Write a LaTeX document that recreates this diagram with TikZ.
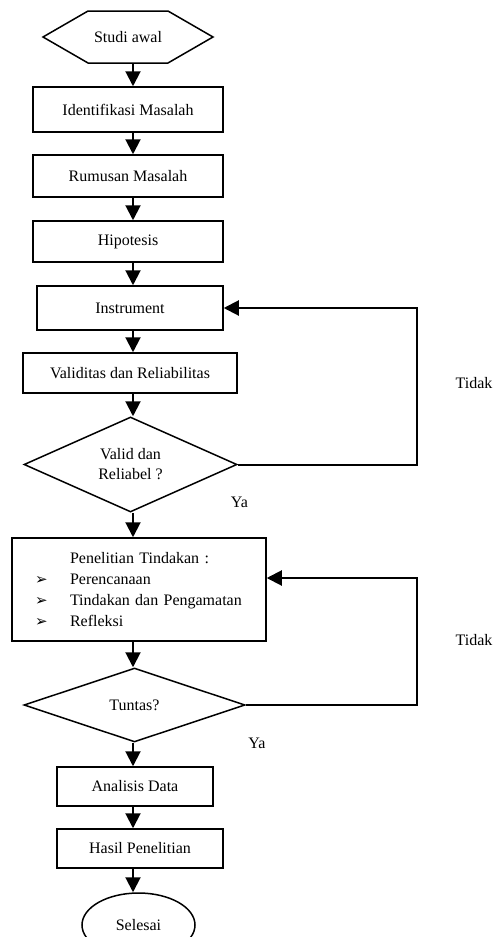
\documentclass[tikz,border=0pt]{standalone}
\usepackage{fontspec}
\setmainfont{Liberation Serif}
\newfontfamily\bulletfont{DejaVu Sans}
\usetikzlibrary{shapes.geometric,shapes.symbols,arrows.meta}

\begin{document}
\begin{tikzpicture}[x=1pt,y=-1pt,
    font=\fontsize{16}{20}\selectfont,
    kotak/.style={draw, line width=1.5pt, inner sep=2pt},
    pilihan/.style={draw, diamond, line width=1.5pt, inner sep=0pt, align=center},
    panah/.style={line width=2pt, -{Triangle[length=15pt,width=15pt]}}]
  \useasboundingbox (0,0) rectangle (493,937);
  \coordinate (ax) at (133,0);
  \coordinate (kanan) at (417,0);
  \coordinate (balik) at (417,578);

  \node[draw, signal, signal to=west and east, signal pointer angle=60,
        line width=1.5pt, minimum width=170, minimum height=52, inner sep=0pt]
        (awal) at (128,37) {Studi awal};
  \node[kotak, minimum width=190, minimum height=45] (identifikasi) at (128,109.5) {Identifikasi Masalah};
  \node[kotak, minimum width=190, minimum height=42] (rumusan) at (128,176) {Rumusan Masalah};
  \node[kotak, minimum width=190, minimum height=41] (hipotesis) at (128,241.5) {Hipotesis};
  \node[kotak, minimum width=186, minimum height=44] (instrument) at (130,308) {Instrument};
  \node[kotak, minimum width=214, minimum height=40] (validitas) at (130,373) {Validitas dan Reliabilitas};
  \node[pilihan, aspect=2.24, minimum width=213, minimum height=95] (valid) at (130.5,464.5) {Valid dan\\Reliabel ?};
  \node[kotak, minimum height=103, text width=208, inner xsep=23, align=left,
        font=\fontsize{16}{21}\selectfont] (tindakan) at (139,589.5)
    {\makebox[35pt][l]{}Penelitian Tindakan :\\
     \makebox[35pt][l]{\bulletfont\fontsize{15}{15}\selectfont ➢}Perencanaan\\
     \makebox[35pt][l]{\bulletfont\fontsize{15}{15}\selectfont ➢}Tindakan dan Pengamatan\\
     \makebox[35pt][l]{\bulletfont\fontsize{15}{15}\selectfont ➢}Refleksi};
  \node[pilihan, aspect=3, minimum width=221, minimum height=74] (tuntas) at (134.5,705) {Tuntas?};
  \node[kotak, minimum width=156, minimum height=39] (analisis) at (135,786.5) {Analisis Data};
  \node[kotak, minimum width=166, minimum height=39] (hasil) at (140,848.5) {Hasil Penelitian};
  \node[draw, ellipse, line width=1.5pt, minimum width=113, minimum height=64] (selesai) at (138.5,925) {Selesai};

  \node (tidak1) at (474,383) {Tidak};
  \node (ya1) at (239.5,502) {Ya};
  \node (tidak2) at (474,640) {Tidak};
  \node (ya2) at (257,743) {Ya};

  \draw[panah] (awal.south -| ax) -- (identifikasi.north -| ax);
  \draw[panah] (identifikasi.south -| ax) -- (rumusan.north -| ax);
  \draw[panah] (rumusan.south -| ax) -- (hipotesis.north -| ax);
  \draw[panah] (hipotesis.south -| ax) -- (instrument.north -| ax);
  \draw[panah] (instrument.south -| ax) -- (validitas.north -| ax);
  \draw[panah] (validitas.south -| ax) -- (valid.north -| ax);
  \draw[panah] (valid.south -| ax) -- (tindakan.north -| ax);
  \draw[panah] (tindakan.south -| ax) -- (tuntas.north -| ax);
  \draw[panah] (tuntas.south -| ax) -- (analisis.north -| ax);
  \draw[panah] (analisis.south -| ax) -- (hasil.north -| ax);
  \draw[panah] (hasil.south -| ax) -- (selesai.north -| ax);

  \draw[panah] (valid.east) -- (valid.east -| kanan) |- (instrument.east);
  \draw[panah] (tuntas.east) -| (balik) -- (tindakan.east |- balik);
\end{tikzpicture}
\end{document}
